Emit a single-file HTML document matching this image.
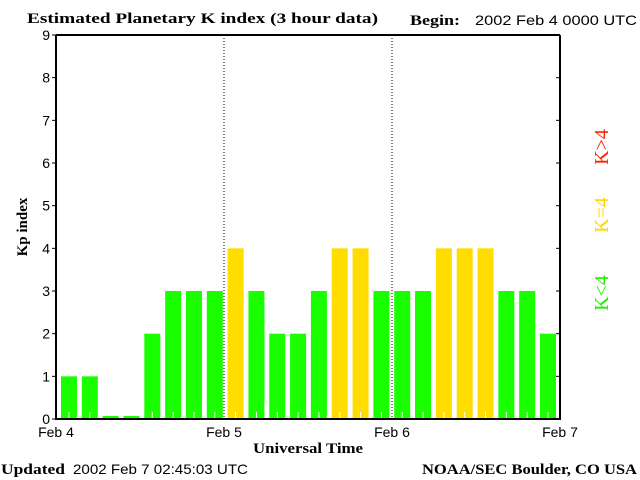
<!DOCTYPE html>
<html><head><meta charset="utf-8"><style>
body{margin:0;background:#fff;}
svg{display:block;}
.s{font-family:"Liberation Sans",sans-serif;font-size:14px;}
.b{font-family:"Liberation Serif",serif;font-weight:bold;font-size:15px;}
</style></head><body>
<svg width="640" height="480" id="c">
<text class="b" x="27" y="23" textLength="351" lengthAdjust="spacingAndGlyphs">Estimated Planetary K index (3 hour data)</text>
<text class="b" x="410" y="25" textLength="50" lengthAdjust="spacingAndGlyphs">Begin:</text>
<text class="s" x="475" y="25" textLength="162" lengthAdjust="spacingAndGlyphs">2002 Feb 4 0000 UTC</text>
<text class="b" x="1" y="474" textLength="64" lengthAdjust="spacingAndGlyphs">Updated</text>
<text class="s" x="73" y="474" textLength="175" lengthAdjust="spacingAndGlyphs">2002 Feb  7 02:45:03 UTC</text>
<text class="b" x="422" y="474" textLength="215" lengthAdjust="spacingAndGlyphs">NOAA/SEC Boulder, CO USA</text>
<text class="b" x="253" y="453" textLength="110" lengthAdjust="spacingAndGlyphs">Universal Time</text>
<text class="b" transform="translate(27,227) rotate(-90)" text-anchor="middle">Kp index</text>
<text class="b" transform="translate(608,147) rotate(-90)" text-anchor="middle" fill="#ff2200" style="font-size:20px;font-weight:normal">K&gt;4</text>
<text class="b" transform="translate(608,215) rotate(-90)" text-anchor="middle" fill="#ffd700" style="font-size:20px;font-weight:normal">K=4</text>
<text class="b" transform="translate(608,293) rotate(-90)" text-anchor="middle" fill="#22ee00" style="font-size:20px;font-weight:normal">K&lt;4</text>
<g id="g"></g>
</svg>
<script>
const kpValues=[1,1,0,0,2,3,3,3,4,3,2,2,3,4,4,3,3,3,4,4,4,3,3,2];
const yTicks=[0,1,2,3,4,5,6,7,8,9];
const dayLabels=["Feb 4","Feb 5","Feb 6","Feb 7"];
const L=56,R=560,T=35,B=419;
const y=v=>B-(B-T)*v/9;
const BW=16;
const x=i=>L+5+(R-L-5-BW-4)*i/(kpValues.length-1);
const g=document.getElementById('g');
const NS='http://www.w3.org/2000/svg';
function mk(t,a){const e=document.createElementNS(NS,t);for(const k in a)e.setAttribute(k,a[k]);g.appendChild(e);return e;}
kpValues.forEach((v,i)=>{
 const top=v===0?B-3:y(v);
 const col=v>4?'#ff2200':v===4?'#ffdd00':'#1aff00';
 const r=mk('rect',{x:x(i),y:top,width:BW,height:B-top,fill:col});
 
 
 if(v>0){const w=mk('line',{x1:x(i)+BW/2,x2:x(i)+BW/2,y1:B-7,y2:B,stroke:'#fff'});
 
 }
});
[1,2].forEach(d=>{const xx=L+(R-L)*d/3;const l=mk('line',{x1:xx,x2:xx,y1:T,y2:B,stroke:'#000','stroke-dasharray':'1,2'});
 
 });
const ax=mk('path',{d:`M${L},${T}V${B}H${R}V${T}`,fill:'none',stroke:'#000','stroke-width':2});


const tp=mk('line',{x1:L,x2:R,y1:T,y2:T,stroke:'#000','stroke-width':2});


yTicks.forEach(v=>{
 const t=mk('line',{x1:L-4,x2:L,y1:y(v),y2:y(v),stroke:'#000'});
 
 
 const t2=mk('line',{x1:R-4,x2:R,y1:y(v),y2:y(v),stroke:'#000'});
 
 
 const tx=mk('text',{x:L-6,y:y(v)+5,'text-anchor':'end',class:'s'});tx.textContent=v;
 
 
});
dayLabels.forEach((s,i)=>{
 const tx=mk('text',{x:L+(R-L)*i/3,y:437,'text-anchor':'middle',class:'s'});tx.textContent=s;
 
 
});
</script>
</body></html>
